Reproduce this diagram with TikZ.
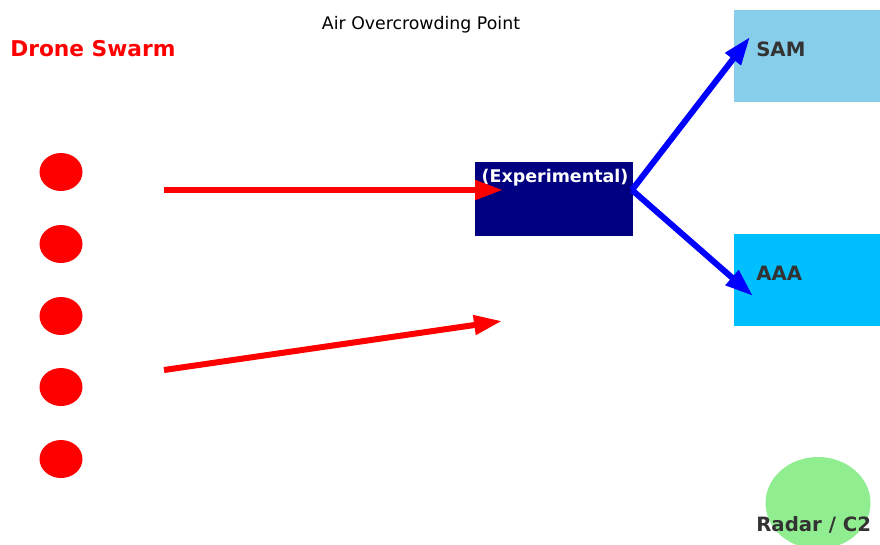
\documentclass[tikz,border=0pt]{standalone}
\usepackage{fontspec}
\setmainfont{DejaVu Sans}
\usepackage{xcolor}
\usepackage{tikz}
\usetikzlibrary{arrows.meta,shapes.geometric}
\definecolor{navybox}{HTML}{000080}
\definecolor{skybox}{HTML}{87CEEB}
\definecolor{deepsky}{HTML}{00BFFF}
\definecolor{greenish}{HTML}{90EE90}
\definecolor{labelgray}{HTML}{333333}

\begin{document}
\begin{tikzpicture}[x=0.75pt, y=-0.75pt,
  drone/.style={ellipse, fill=red, minimum width=32.25pt, minimum height=28.5pt, inner sep=0pt},
  zone/.style={rectangle, inner sep=0pt, minimum width=109.5pt, minimum height=69pt},
  tag/.style={font=\fontsize{14.8}{16}\selectfont\bfseries, text=labelgray, anchor=base west, inner sep=0pt},
  flow/.style={line width=4.5pt, -{Triangle[length=21pt, width=14pt]}}]
\clip (0,0) rectangle (880,544);
\fill[white] (0,0) rectangle (880,544);
\node[font=\fontsize{13}{15}\selectfont, anchor=base, inner sep=0pt] (title) at (421,29) {Air Overcrowding Point};
\node[font=\fontsize{16.3}{19}\selectfont\bfseries, text=red, anchor=base west, inner sep=0pt] (swarm) at (10,56) {Drone Swarm};
\node[drone] (d1) at (61,172) {};
\node[drone] (d2) at (61,244) {};
\node[drone] (d3) at (61,316) {};
\node[drone] (d4) at (61,387) {};
\node[drone] (d5) at (61,459) {};
\node[zone, fill=navybox, minimum width=118.5pt, minimum height=55.5pt] (point) at (554,199) {};
\node[font=\fontsize{13.1}{15}\selectfont\bfseries, text=white, anchor=base, inner sep=0pt] (exp) at (555,182) {(Experimental)};
\node[zone, fill=skybox] (sam) at (807,56) {};
\node[zone, fill=deepsky] (aaa) at (807,280) {};
\node[ellipse, fill=greenish, minimum width=78.75pt, minimum height=69pt, inner sep=0pt] (radar) at (818,503) {};
\node[tag] (samlbl) at (756,56) {SAM};
\node[tag] (aaalbl) at (756,280) {AAA};
\node[tag] (radarlbl) at (756,531) {Radar / C2};
\coordinate (s1) at (164,190);
\coordinate (s2) at (164,370);
\coordinate (t1) at (503,190);
\coordinate (t2) at (502,321);
\coordinate (hub) at (632,190);
\coordinate (tsam) at (750,37);
\coordinate (taaa) at (753,296);
\draw[flow, red] (s1) -- (t1);
\draw[flow, red] (s2) -- (t2);
\draw[flow, blue] (hub) -- (tsam);
\draw[flow, blue] (hub) -- (taaa);
\end{tikzpicture}
\end{document}
